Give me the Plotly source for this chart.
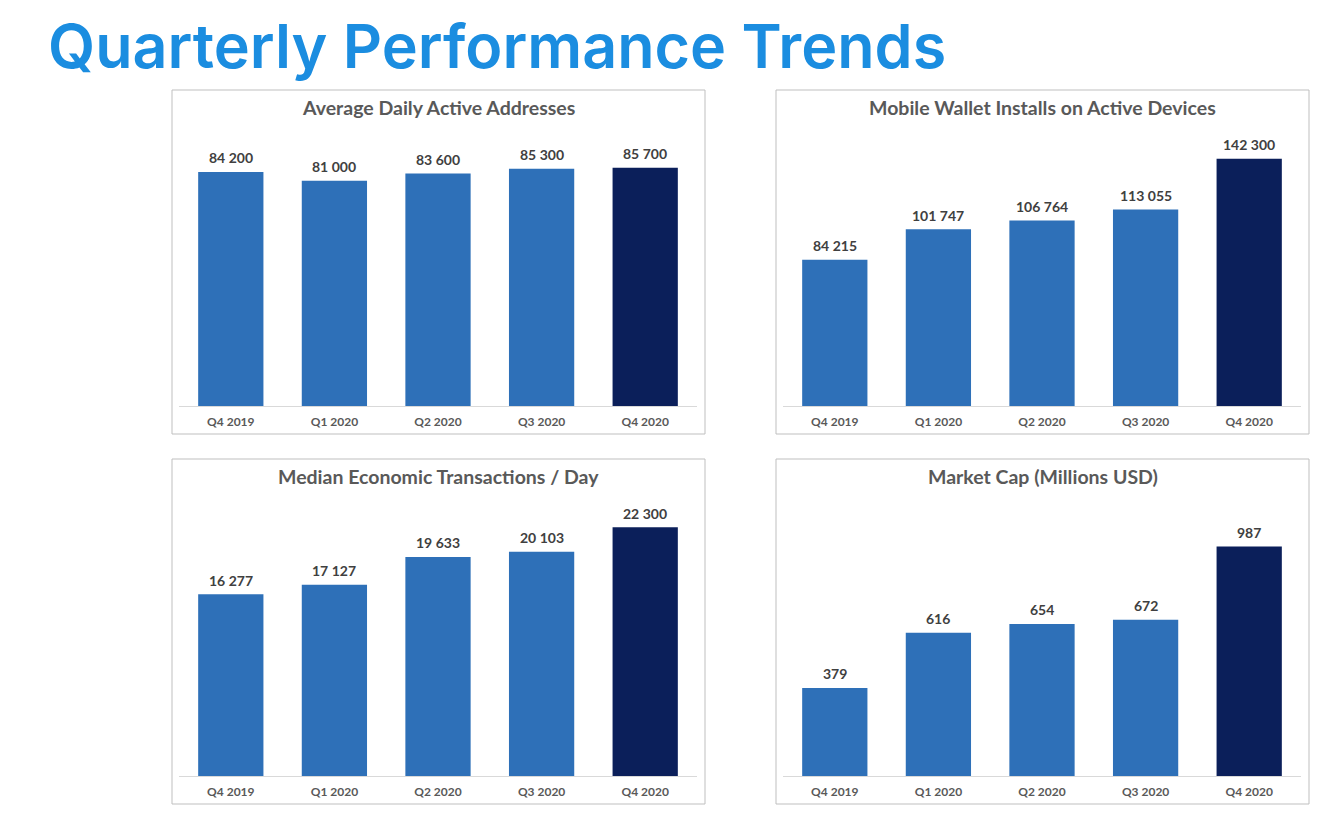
import plotly.graph_objects as go

W, H = 1326, 824
OFF = 8  # page body margin offset

quarters = ["Q4 2019", "Q1 2020", "Q2 2020", "Q3 2020", "Q4 2020"]
active_addresses = [84200, 81000, 83600, 85300, 85700]
wallet_installs = [84215, 101747, 106764, 113055, 142300]
median_tx = [16277, 17127, 19633, 20103, 22300]
market_cap = [379, 616, 654, 672, 987]

titles = [
    "Average Daily Active Addresses",
    "Mobile Wallet Installs on Active Devices",
    "Median Economic Transactions / Day",
    "Market Cap (Millions USD)",
]
series = [active_addresses, wallet_installs, median_tx, market_cap]
y_max = [100000, 160000, 25000, 1200]

BLUE = "#2e70b8"
DARK = "#0b1f5a"
bar_colors = [BLUE, BLUE, BLUE, BLUE, DARK]

# panel geometry in pixels: (box x0, box x1, box y0, box y1, plot x0, plot x1, plot y0, plot y1)
panels = [
    (172, 705, 90, 434, 179, 697, 128, 406),
    (776, 1309, 90, 434, 783, 1301, 128, 406),
    (172, 705, 459, 804, 179, 697, 497, 776),
    (776, 1309, 459, 804, 783, 1301, 497, 776),
]

def px(x):
    return (x - OFF) / W

def py(y):
    return 1 - (y - OFF) / H

fig = go.Figure()
shapes = []
annotations = []

def fmt(v):
    return f"{v:,}".replace(",", " ")

for i, (vals, ttl, ym, geo) in enumerate(zip(series, titles, y_max, panels)):
    bx0, bx1, by0, by1, x0, x1, y0, y1 = geo
    n = "" if i == 0 else str(i + 1)
    fig.add_trace(go.Bar(
        x=quarters, y=vals,
        xaxis="x" + n, yaxis="y" + n,
        marker=dict(color=bar_colors, line=dict(width=0)),
        width=0.63,
        hoverinfo="skip",
        showlegend=False,
    ))
    for q, v in zip(quarters, vals):
        annotations.append(dict(
            text=fmt(v), x=q, y=v, xref="x" + n, yref="y" + n,
            xanchor="center", yanchor="middle", yshift=14, showarrow=False,
            font=dict(family="Lato", size=14, color="#404040", weight="bold"),
        ))
    fig.update_layout(**{
        "xaxis" + n: dict(
            domain=[px(x0), px(x1)], anchor="y" + n,
            showline=True, linecolor="#d9d9d9", linewidth=1,
            showgrid=False, zeroline=False, ticks="",
            ticklabelstandoff=5,
            tickfont=dict(family="Lato", size=12, color="#595959", weight="bold"),
            fixedrange=True,
        ),
        "yaxis" + n: dict(
            domain=[py(y1), py(y0)], anchor="x" + n,
            range=[0, ym], visible=False, showgrid=False, zeroline=False,
            fixedrange=True,
        ),
    })
    shapes.append(dict(
        type="rect", xref="paper", yref="paper",
        x0=px(bx0), x1=px(bx1), y0=py(by1), y1=py(by0),
        line=dict(color="#bfbfbf", width=1), fillcolor="rgba(0,0,0,0)", layer="below",
    ))
    annotations.append(dict(
        text=ttl, xref="paper", yref="paper",
        x=px((bx0 + bx1) / 2), y=py(by0 + 17),
        xanchor="center", yanchor="middle", showarrow=False,
        font=dict(family="Lato", size=19.5, color="#595959", weight="bold"),
    ))

annotations.append(dict(
    text="Quarterly Performance Trends", xref="paper", yref="paper",
    x=px(47), y=1.0, xanchor="left", yanchor="top", showarrow=False,
    borderpad=0,
    font=dict(family="Inter", size=61, color="#1b8de0", weight=600),
))

fig.update_layout(
    width=W, height=H,
    margin=dict(l=0, r=0, t=0, b=0),
    paper_bgcolor="white", plot_bgcolor="white",
    bargap=0.37,
    shapes=shapes,
    annotations=annotations,
)

fig.write_html("out.html")
